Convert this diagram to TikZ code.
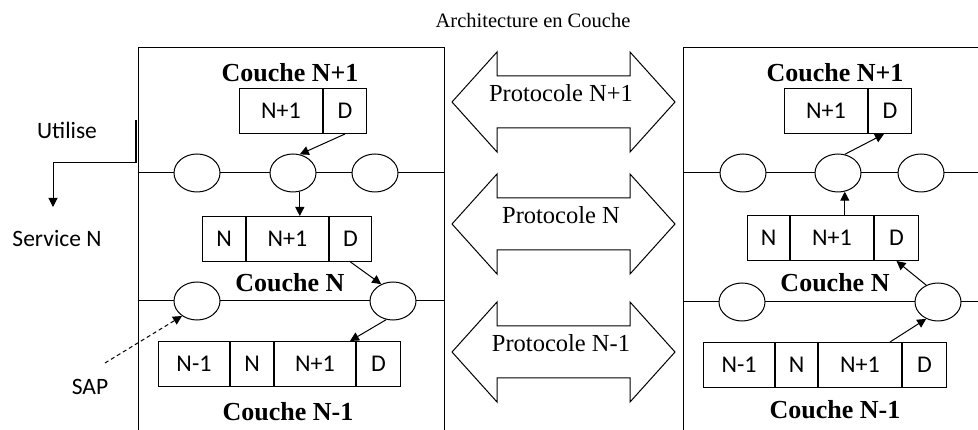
\documentclass[tikz,border=0pt]{standalone}
\usepackage{fontspec}
\setmainfont{Liberation Serif}
\newfontfamily\cellfont{Carlito}
\usetikzlibrary{positioning,shapes.geometric,arrows.meta,calc}

\begin{document}
\begin{tikzpicture}[x=1pt, y=-1pt, line width=1pt,
	cell/.style={draw, minimum height=45pt, inner sep=0pt, font=\cellfont\fontsize{24}{27}\selectfont},
	sap/.style={ellipse, draw, fill=white, minimum width=46pt, minimum height=38pt, inner sep=0pt},
	layer/.style={font=\bfseries\fontsize{26}{30}\selectfont},
	proto/.style={font=\fontsize{24.5}{28}\selectfont},
	side/.style={font=\cellfont\fontsize{23.5}{26}\selectfont},
	arr/.style={-{Triangle[length=9pt, width=9pt]}}]
		% \draw[help lines] (0,0) grid[step=50] (978,430);
		\useasboundingbox (0,0) rectangle (978,430);
		\node[font=\fontsize{20.5}{24}\selectfont] (title) at (533,20) {Architecture en Couche};

		% left system
		\draw (138,430) -- (138,48) -- (444,48) -- (444,430);
		\draw (138,173) -- (444,173);
		\draw (138,301) -- (444,301);
		\node[layer] (l1) at (290,73) {Couche N+1};
		\node[layer] (l2) at (290,283) {Couche N};
		\node[layer] (l3) at (288,412) {Couche N-1};
		\node[cell, minimum width=83pt, anchor=north west] (a1) at (239,88) {N+1};
		\node[cell, minimum width=43pt, right=0pt of a1] (a2) {D};
		\node[cell, minimum width=43pt, anchor=north west] (b1) at (202,216) {N};
		\node[cell, minimum width=82pt, right=0pt of b1] (b2) {N+1};
		\node[cell, minimum width=42pt, right=0pt of b2] (b3) {D};
		\node[cell, minimum width=71pt, anchor=north west] (c1) at (158,341) {N-1};
		\node[cell, minimum width=43pt, right=0pt of c1] (c2) {N};
		\node[cell, minimum width=81pt, right=0pt of c2] (c3) {N+1};
		\node[cell, minimum width=44pt, right=0pt of c3] (c4) {D};
		\node[sap] (e1) at (197,173) {};
		\node[sap] (e2) at (293,173) {};
		\node[sap] (e3) at (375,173) {};
		\node[sap] (f1) at (197,301) {};
		\node[sap] (f2) at (393,301) {};
		\draw[arr] (a2.south) -- (e2.70);
		\draw[arr] (e2.-70) -- (e2.-70 |- b2.north);
		\draw[arr] (b3.south) -- (f2.125);
		\draw[arr] (f2.-110) -- ($(c3.north east)+(-6,0)$);

		% service access
		\coordinate (u0) at (136,120);
		\coordinate (u1) at (53,207);
		\coordinate (s0) at (105,363);
		\draw[line width=1.5pt] (u0) -- (136,163);
		\draw[arr] (136,163) -| (u1);
		\node[side] (use) at (67,130) {Utilise};
		\node[side] (srv) at (57,238) {Service N};
		\node[side] (sapl) at (90,387) {SAP};
		\draw[arr, dash pattern=on 4pt off 3pt] (s0) -- (f1.-135);

		% protocols
		\foreach \cy/\lab/\nm in {102/{Protocole N+1}/p1, 224/{Protocole N}/p2, 352/{Protocole N-1}/p3} {
			\draw (452,\cy) -- ++(45,-50) -- ++(0,24) -- ++(133,0) -- ++(0,-24) -- ++(45,50)
				-- ++(-45,50) -- ++(0,-24) -- ++(-133,0) -- ++(0,24) -- cycle;
			\node[proto] (\nm) at (561,\cy-9) {\lab};
		}

		% right system
		\draw (683,430) -- (683,48) -- (978,48);
		\draw (683,173) -- (978,173);
		\draw (683,302) -- (978,302);
		\node[layer] (k1) at (835,73) {Couche N+1};
		\node[layer] (k2) at (835,283) {Couche N};
		\node[layer] (k3) at (835,410) {Couche N-1};
		\node[cell, minimum width=83pt, anchor=north west] (r1) at (784,88) {N+1};
		\node[cell, minimum width=43pt, right=0pt of r1] (r2) {D};
		\node[cell, minimum width=42pt, anchor=north west] (s1) at (747,215) {N};
		\node[cell, minimum width=83pt, right=0pt of s1] (s2) {N+1};
		\node[cell, minimum width=44pt, right=0pt of s2] (s3) {D};
		\node[cell, minimum width=71pt, anchor=north west] (t1) at (703,342) {N-1};
		\node[cell, minimum width=42pt, right=0pt of t1] (t2) {N};
		\node[cell, minimum width=83pt, right=0pt of t2] (t3) {N+1};
		\node[cell, minimum width=44pt, right=0pt of t3] (t4) {D};
		\node[sap] (g1) at (743,173) {};
		\node[sap] (g2) at (838,173) {};
		\node[sap] (g3) at (921,173) {};
		\node[sap] (h1) at (742,302) {};
		\node[sap] (h2) at (938,302) {};
		\draw[arr] (g2.70) -- ($(r2.south)+(-6,0)$);
		\draw[arr] (g2.-70 |- s2.north) -- (g2.-70);
		\draw[arr] (h2.125) -- (s3.south);
		\draw[arr] ($(t3.north east)+(-12,0)$) -- (h2.-125);
	\end{tikzpicture}
\end{document}
